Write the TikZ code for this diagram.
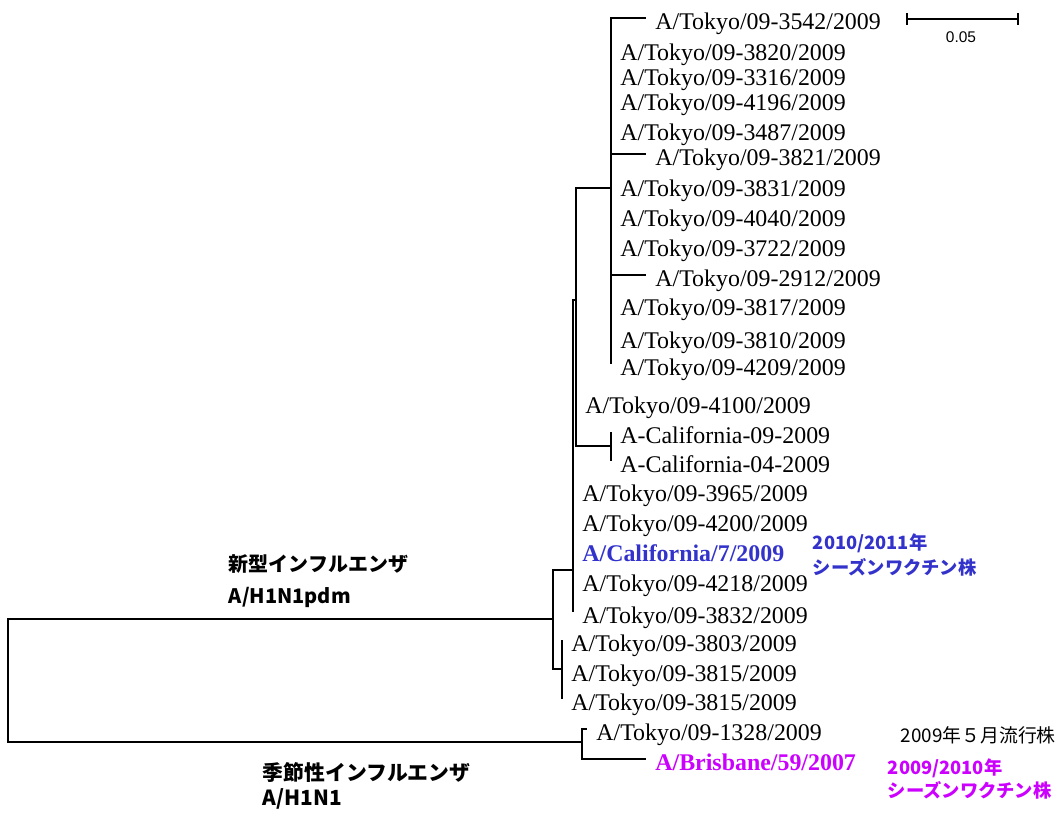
\documentclass[tikz,border=0pt]{standalone}
\usepackage{fontspec}
\usetikzlibrary{arrows.meta}
\setmainfont{Liberation Serif}
\newfontfamily\jpfont{Noto Sans CJK JP}
\newfontfamily\barfont{Liberation Sans}
\definecolor{vaccblue}{RGB}{51,51,204}
\definecolor{vaccpink}{RGB}{204,0,255}

\begin{document}
\begin{tikzpicture}[x=0.025cm, y=-0.025cm, line width=1.3pt,
    leaf/.style={anchor=west, inner xsep=6pt, inner ysep=0pt, text height=16pt, text depth=0pt,
        font=\fontsize{17}{20}\selectfont},
    jplabel/.style={anchor=west, inner sep=0pt, align=left}]
        \useasboundingbox (0,0) rectangle (1057,813);
        % internal nodes of the tree
        \coordinate (r) at (8,680);
        \coordinate (p) at (553,619);
        \coordinate (a) at (573,570);
        \coordinate (b) at (576,300);
        \coordinate (t) at (611,188);
        \coordinate (k) at (611,446);
        \coordinate (c) at (562,669);
        \coordinate (s) at (582,742);
        % leaves
        \node[leaf] (l3542) at (646,18) {A/Tokyo/09-3542/2009};
        \node[leaf] (l3820) at (611,49) {A/Tokyo/09-3820/2009};
        \node[leaf] (l3316) at (611,74) {A/Tokyo/09-3316/2009};
        \node[leaf] (l4196) at (611,99) {A/Tokyo/09-4196/2009};
        \node[leaf] (l3487) at (611,129) {A/Tokyo/09-3487/2009};
        \node[leaf] (l3821) at (646,154) {A/Tokyo/09-3821/2009};
        \node[leaf] (l3831) at (611,185) {A/Tokyo/09-3831/2009};
        \node[leaf] (l4040) at (611,215) {A/Tokyo/09-4040/2009};
        \node[leaf] (l3722) at (611,245) {A/Tokyo/09-3722/2009};
        \node[leaf] (l2912) at (646,275) {A/Tokyo/09-2912/2009};
        \node[leaf] (l3817) at (611,304) {A/Tokyo/09-3817/2009};
        \node[leaf] (l3810) at (611,337) {A/Tokyo/09-3810/2009};
        \node[leaf] (l4209) at (611,364) {A/Tokyo/09-4209/2009};
        \node[leaf] (l4100) at (576,402) {A/Tokyo/09-4100/2009};
        \node[leaf] (cal09) at (611,432) {A-California-09-2009};
        \node[leaf] (cal04) at (611,461) {A-California-04-2009};
        \node[leaf] (l3965) at (573,490) {A/Tokyo/09-3965/2009};
        \node[leaf] (l4200) at (573,520) {A/Tokyo/09-4200/2009};
        \node[leaf, text=vaccblue, font=\fontsize{17}{20}\selectfont\bfseries] (cal7) at (573,550) {A/California/7/2009};
        \node[leaf] (l4218) at (573,580) {A/Tokyo/09-4218/2009};
        \node[leaf] (l3832) at (573,612) {A/Tokyo/09-3832/2009};
        \node[leaf] (l3803) at (562,640) {A/Tokyo/09-3803/2009};
        \node[leaf] (l3815) at (562,670) {A/Tokyo/09-3815/2009};
        \node[leaf] (l3815b) at (562,699) {A/Tokyo/09-3815/2009};
        \node[leaf] (l1328) at (587,729) {A/Tokyo/09-1328/2009};
        \node[leaf, text=vaccpink, font=\fontsize{17}{20}\selectfont\bfseries] (bris) at (646,759) {A/Brisbane/59/2007};
        % branches
        \draw (r) |- (p);
        \draw (r) |- (s);
        \draw (p) |- (a);
        \draw (p) |- (c);
        \draw (a) |- (b);
        \draw (b) |- (t);
        \draw (b) |- (k);
        \draw (b) |- (l4100.west);
        \draw (t) |- (l3542.west);
        \draw (t) |- (l3820.west);
        \draw (t) |- (l3316.west);
        \draw (t) |- (l4196.west);
        \draw (t) |- (l3487.west);
        \draw (t) |- (l3821.west);
        \draw (t) |- (l3831.west);
        \draw (t) |- (l4040.west);
        \draw (t) |- (l3722.west);
        \draw (t) |- (l2912.west);
        \draw (t) |- (l3817.west);
        \draw (t) |- (l3810.west);
        \draw (t) |- (l4209.west);
        \draw (k) |- (cal09.west);
        \draw (k) |- (cal04.west);
        \draw (a) |- (l3965.west);
        \draw (a) |- (l4200.west);
        \draw (a) |- (cal7.west);
        \draw (a) |- (l4218.west);
        \draw (a) |- (l3832.west);
        \draw (c) |- (l3803.west);
        \draw (c) |- (l3815.west);
        \draw (c) |- (l3815b.west);
        \draw (s) |- (l1328.west);
        \draw (s) |- (bris.west);
        % scale bar
        \coordinate (sbl) at (906,19);
        \coordinate (sbr) at (1019,19);
        \draw[{Bar[width=8pt]}-{Bar[width=8pt]}] (sbl) -- (sbr);
        \node[font=\barfont\fontsize{11}{13}\selectfont] (sblabel) at (961,37) {0.05};
        % group and vaccine labels
        \node[jplabel, font=\jpfont\bfseries\fontsize{14.2}{22.8}\selectfont] (pdmlabel) at (228,581) {新型インフルエンザ\\A/H1N1pdm};
        \node[jplabel, font=\jpfont\bfseries\fontsize{14.8}{17.8}\selectfont] (seasonlabel) at (262,786) {季節性インフルエンザ\\A/H1N1};
        \node[jplabel, text=vaccblue, font=\jpfont\bfseries\fontsize{13}{17.8}\selectfont] (vacc1011) at (812,555) {2010/2011年\\シーズンワクチン株};
        \node[jplabel, text=vaccpink, font=\jpfont\bfseries\fontsize{13}{16.4}\selectfont] (vacc0910) at (887,779) {2009/2010年\\シーズンワクチン株};
        \node[jplabel, font=\jpfont\fontsize{13.4}{16}\selectfont] (may09) at (900,735) {2009年５月流行株};
\end{tikzpicture}
\end{document}
